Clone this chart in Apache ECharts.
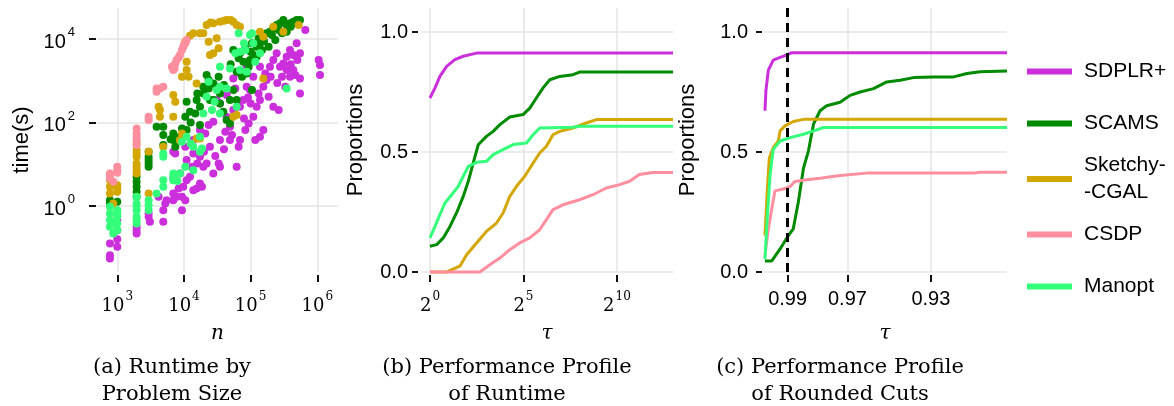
<!DOCTYPE html>
<html>
<head>
<meta charset="utf-8">
<script src="https://cdn.jsdelivr.net/npm/echarts@6/dist/echarts.min.js"></script>
<style>
  html, body { margin: 0; padding: 0; background: #fff; }
  #main { width: 1174px; height: 406px; }
</style>
</head>
<body>
<div id="main"></div>
<script>
// methods, in legend order
const methods = ['SDPLR+', 'SCAMS', 'Sketchy-CGAL', 'CSDP', 'Manopt'];
const colors = ['#CB2FDC', '#008A00', '#D4A600', '#FF8E9E', '#33FF7A'];

// (a) runtime vs problem size, as [log10 n, log10 time]
const sdplrPts = [[2.89,-1.18],[2.89,-1.26],[3.00,-0.98],[3.00,-0.58],[3.00,-0.34],[3.29,-0.66],[3.29,-0.50],
  [3.47,-0.26],[3.49,-0.38],[3.69,-0.38],[3.72,0.06],[3.62,0.22],[3.74,0.14],[3.84,1.30],[3.84,0.14],[3.97,0.22],
  [3.99,0.46],[4.04,0.62],[3.89,0.22],[3.97,-0.10],[4.02,0.14],[4.14,0.38],[4.19,0.42],[4.27,0.46],[4.34,1.02],
  [4.39,1.42],[4.37,1.94],[4.52,1.02],[4.54,0.94],[4.54,1.58],[4.62,1.78],[4.69,1.90],[4.64,2.14],[4.69,1.58],
  [4.74,2.30],[4.79,0.94],[4.82,1.42],[4.84,1.58],[4.92,1.82],[4.97,1.98],[5.04,2.14],[5.09,2.38],[4.84,2.38],
  [4.89,2.54],[4.94,2.86],[4.99,2.78],[5.04,3.10],[5.14,2.54],[5.19,2.86],[5.24,3.02],[5.29,3.34],[5.34,3.50],
  [5.39,3.66],[5.44,3.34],[5.49,3.42],[5.54,3.58],[5.59,3.74],[5.64,3.62],[5.69,3.90],[5.74,3.66],[5.54,3.26],
  [5.59,3.10],[5.67,3.14],[5.74,3.06],[5.74,2.70],[5.19,1.82],[5.14,1.66],[5.07,1.58],[5.34,2.38],[5.42,2.30],
  [5.52,2.86],[5.64,3.26],[5.82,4.22],[6.02,3.50],[6.04,3.38],[6.04,3.14],[5.14,3.34],[5.22,3.18],[4.94,3.34],
  [4.84,3.18],[4.74,3.06],[4.77,2.82],[4.64,2.66],[4.54,2.46],[4.49,2.54],[4.44,2.02],[4.24,1.82],[4.32,1.74],
  [4.14,1.58],[4.02,1.42],[4.14,1.26],[4.24,1.18],[4.29,0.94],[4.44,0.78],[3.94,0.78],[4.24,0.54],[4.12,0.94],
  [3.87,1.26],[4.04,1.10],[3.84,0.66],[2.89,-0.90],[3.00,-0.80],[3.29,-0.58],[3.47,-0.18],[3.69,-0.10],[3.84,0.30],
  [3.92,0.42],[4.09,0.70],[4.20,1.02],[4.30,1.30],[4.47,1.20],[4.60,1.36],[4.72,1.70],[4.90,2.10],[5.00,2.46],
  [5.12,2.70],[5.27,2.62],[5.40,2.95],[5.47,3.10],[5.60,3.40],[5.70,3.50],[5.30,3.10],[4.96,2.60]];
const scamsPts = [[2.89,0.14],[2.89,0.06],[3.00,0.10],[3.29,0.70],[3.29,0.58],[3.29,0.46],[3.29,0.34],[3.47,1.30],
  [3.47,1.18],[3.47,1.02],[3.47,0.94],[3.59,1.90],[3.69,1.90],[3.69,1.46],[3.84,1.74],[3.84,1.58],[3.94,1.66],
  [3.97,1.86],[4.02,2.14],[4.04,2.50],[4.09,2.26],[4.17,2.22],[4.19,2.54],[4.24,2.38],[4.24,1.94],[4.29,2.86],
  [4.29,2.70],[4.34,3.14],[4.37,2.82],[4.39,2.54],[4.44,2.54],[4.49,2.86],[4.52,3.10],[4.54,2.46],[4.59,2.26],
  [4.64,2.06],[4.69,1.98],[4.74,2.78],[4.79,3.22],[4.82,3.54],[4.87,3.10],[4.94,3.18],[4.97,3.34],[4.99,3.50],
  [5.02,2.78],[5.04,3.62],[5.09,3.82],[5.14,3.90],[5.19,4.06],[5.24,4.14],[5.29,4.18],[5.34,4.26],[5.39,4.34],
  [5.44,4.38],[5.49,4.46],[5.54,4.34],[5.59,4.38],[5.64,4.42],[5.69,4.46],[5.74,4.46],[5.09,3.58],[5.17,3.74],
  [5.27,3.82],[5.37,3.98],[5.47,4.14],[5.54,4.18],[4.74,3.74],[4.84,3.66],[4.92,3.78],[5.02,3.90],[5.12,4.02],
  [4.89,3.46],[4.79,2.54],[4.69,2.54],[4.54,2.70],[4.37,3.02],[4.44,2.94],[4.04,1.82],[3.87,1.42],[3.29,0.22],
  [3.47,1.10],[3.69,1.70],[3.80,1.60],[4.10,2.00],[4.20,2.70],[4.60,2.90],[4.70,3.40],[5.00,3.70],[5.20,3.95],
  [5.32,4.10],[5.42,4.22],[5.60,4.30],[5.66,4.38]];
const sketchyPts = [[2.89,0.62],[2.89,0.46],[2.89,0.30],[3.00,0.50],[3.00,0.34],[2.94,0.06],[3.29,1.50],[3.29,1.34],
  [3.29,1.18],[3.29,1.02],[3.29,0.86],[3.29,0.78],[3.47,1.30],[3.47,0.30],[3.62,2.38],[3.64,2.14],[3.69,1.42],
  [3.84,2.66],[3.84,2.14],[3.94,1.58],[4.04,3.26],[4.07,3.10],[4.04,3.46],[4.02,3.94],[4.14,4.14],[4.24,4.14],
  [4.29,4.14],[4.34,4.34],[4.44,4.38],[4.54,4.42],[4.64,4.46],[4.74,4.42],[4.79,4.34],[4.84,4.30],[4.37,3.94],
  [4.49,4.02],[4.52,3.78],[4.39,3.62],[4.44,3.66],[4.19,2.94],[4.19,1.62],[4.24,1.62],[4.74,2.14],[4.79,2.18],
  [5.19,3.06],[5.14,4.18],[5.19,4.06],[5.34,4.30],[5.72,4.34],[5.49,4.18],[3.97,1.74],[3.29,1.26],[3.29,0.94],
  [3.00,0.42],[3.64,2.30],[3.87,2.50],[3.97,3.10],[4.09,4.08],[4.40,4.40],[4.60,4.44],[4.70,4.46]];
const csdpPts = [[2.89,0.78],[2.89,0.66],[2.94,0.58],[3.00,0.94],[3.00,0.86],[3.29,1.86],[3.29,1.74],[3.29,1.58],
  [3.29,1.46],[3.47,2.14],[3.47,2.06],[3.59,2.82],[3.59,2.74],[3.64,2.82],[3.69,2.86],[3.82,3.34],[3.84,3.26],
  [3.87,3.42],[3.89,3.50],[3.94,3.62],[3.97,3.74],[3.99,3.82],[4.02,3.90],[4.04,3.98],[2.89,0.72],[3.00,0.80],
  [3.29,1.66],[3.86,3.30],[3.92,3.56],[4.00,3.86]];
const manoptPts = [[2.89,-0.18],[2.89,-0.34],[2.89,-0.50],[2.94,-0.66],[3.00,-0.10],[3.00,-0.26],[3.00,-0.42],
  [3.00,-0.58],[3.29,0.22],[3.29,0.06],[3.29,-0.10],[3.29,-0.26],[3.29,-0.42],[3.47,0.14],[3.47,-0.10],[3.59,0.30],
  [3.69,0.62],[3.69,0.46],[3.69,1.26],[3.69,1.18],[3.84,0.78],[3.84,0.62],[3.94,0.78],[4.02,0.94],[3.97,1.54],
  [4.04,1.66],[4.14,1.42],[4.24,1.66],[4.24,1.30],[4.27,1.38],[4.14,0.86],[4.29,2.22],[4.34,2.62],[4.37,2.98],
  [4.42,2.30],[4.54,3.34],[4.54,2.22],[4.64,2.82],[4.69,3.30],[4.79,2.38],[4.82,4.14],[4.84,3.70],[4.77,3.66],
  [4.92,3.74],[4.99,4.10],[5.02,4.14],[5.04,3.90],[5.07,3.46],[5.14,3.66],[5.54,2.82],[4.84,3.26],[4.94,3.22],
  [4.54,2.86],[4.49,2.78],[2.89,-0.02],[3.00,-0.18],[2.94,-0.40],[3.29,-0.02],[3.29,-0.34],[3.47,0.02],
  [3.84,0.70],[3.90,0.60],[4.10,1.50],[4.46,2.50],[4.90,3.90]];

// (b) performance profile of runtime, as [log2 tau, proportion]
const sdplrRun = [[0,0.725],[0.27,0.767],[0.53,0.815],[0.89,0.857],[1.33,0.885],[1.78,0.899],[2.49,0.912],[13,0.912]];
const scamsRun = [[0,0.107],[0.36,0.114],[0.71,0.142],[1.07,0.19],[1.42,0.246],[1.78,0.315],[2.05,0.378],[2.31,0.454],
  [2.58,0.53],[3.02,0.565],[3.38,0.586],[3.74,0.614],[4.27,0.646],[4.98,0.656],[5.34,0.683],[5.69,0.725],[6.05,0.767],
  [6.41,0.801],[6.94,0.815],[7.65,0.822],[8.0,0.833],[13,0.833]];
const sketchyRun = [[0,0],[0.89,0],[1.6,0.024],[1.96,0.072],[2.49,0.121],[3.02,0.169],[3.56,0.204],[3.91,0.246],
  [4.27,0.315],[4.63,0.357],[5.07,0.399],[5.52,0.454],[5.87,0.496],[6.23,0.524],[6.58,0.572],[6.94,0.586],[7.65,0.6],
  [8.36,0.621],[8.9,0.635],[13,0.635]];
const csdpRun = [[0,0],[2.67,0],[3.2,0.03],[3.74,0.058],[4.27,0.093],[4.8,0.121],[5.34,0.142],[5.87,0.176],[6.23,0.218],
  [6.58,0.26],[7.12,0.28],[8.0,0.301],[8.72,0.322],[9.43,0.35],[10.14,0.364],[10.68,0.378],[11.2,0.406],[11.92,0.415],[13,0.415]];
const manoptRun = [[0,0.142],[0.27,0.19],[0.53,0.239],[0.8,0.2875],[1.16,0.322],[1.51,0.357],[1.78,0.399],[2.05,0.44],
  [2.49,0.457],[3.02,0.461],[3.38,0.489],[3.91,0.51],[4.45,0.531],[5.16,0.5375],[5.52,0.572],[5.87,0.6],[7.65,0.603],
  [8.0,0.607],[13,0.607]];

// (c) performance profile of rounded cuts, x = position along the tau axis (0..100)
const sdplrCut = [[0.8,0.672],[1.2,0.757],[2.2,0.841],[4.2,0.883],[7.0,0.894],[9.7,0.904],[11.8,0.914],[100,0.914]];
const scamsCut = [[0.8,0.046],[3.6,0.046],[7,0.096],[10.4,0.152],[12.4,0.18],[14.5,0.293],[16.6,0.433],[18.6,0.504],
  [20.7,0.616],[23.4,0.672],[26.1,0.693],[31.6,0.707],[35.7,0.736],[39.8,0.75],[45.3,0.764],[50.7,0.792],[56.2,0.799],
  [61.7,0.81],[69.9,0.813],[78.1,0.813],[83.6,0.827],[89,0.834],[100,0.837]];
const sketchyCut = [[0.8,0.152],[1.8,0.349],[2.6,0.475],[4.2,0.518],[6.3,0.546],[7,0.588],[9,0.609],[12.4,0.627],
  [16.6,0.636],[100,0.636]];
const csdpCut = [[0.8,0.068],[2.2,0.18],[3.6,0.264],[4.9,0.338],[8.3,0.346],[11.1,0.356],[13.1,0.377],[17.9,0.384],
  [23.4,0.391],[31.6,0.402],[42.5,0.412],[86.3,0.412],[89,0.416],[100,0.416]];
const manoptCut = [[0.8,0.053],[1.8,0.236],[2.9,0.405],[4.2,0.511],[7,0.546],[11.1,0.56],[16.6,0.574],[20.7,0.588],
  [24.8,0.602],[100,0.602]];

// tick labels
const sizeTicks = [3, 4, 5, 6];
const timeTicks = [0, 2, 4];
const runTicks = [0, 5, 10];
const propTicks = [0, 0.5, 1.0];
const cutTicks = [10.1, 34.6, 68.8];
const cutTickLabels = ['0.99', '0.97', '0.93'];
const cutRef = 10.1; // dashed marker at 0.99

const sizePts = [sdplrPts, scamsPts, sketchyPts, csdpPts, manoptPts];
const runCurves = [sdplrRun, scamsRun, sketchyRun, csdpRun, manoptRun];
const cutCurves = [sdplrCut, scamsCut, sketchyCut, csdpCut, manoptCut];

const sans = "'Liberation Sans', Arial, sans-serif";
const serif = "'DejaVu Serif', serif";
const gridLine = { show: true, lineStyle: { color: '#E4E4E4', width: 1.5 } };
const noLine = { show: false, onZero: false };
const tick = (vals, len) => ({ show: true, inside: false, length: len, customValues: vals,
  lineStyle: { color: '#111', width: 2 } });

const sup = (base) => ({
  formatter: v => '{b|' + base + '}{s|' + v + '}',
  rich: {
    b: { fontFamily: serif, fontSize: 18, lineHeight: 24, verticalAlign: 'bottom', color: '#000' },
    s: { fontFamily: serif, fontSize: 12, lineHeight: 24, verticalAlign: 'top', color: '#000', padding: [0, 0, 0, 1] }
  }
});
const supSans = (base) => ({
  formatter: v => '{b|' + base + '}{s|' + v + '}',
  rich: {
    b: { fontFamily: sans, fontSize: 20, lineHeight: 26, verticalAlign: 'bottom', color: '#000' },
    s: { fontFamily: sans, fontSize: 13, lineHeight: 26, verticalAlign: 'top', color: '#000', padding: [0, 0, 0, 2] }
  }
});
const nameStyle = { fontFamily: serif, fontStyle: 'italic', fontSize: 20, color: '#000' };

let myChart = echarts.init(document.getElementById('main'));

let series = [];
methods.forEach((name, i) => {
  series.push({
    name: name, type: 'scatter', xAxisIndex: 0, yAxisIndex: 0,
    symbolSize: 8, itemStyle: { color: colors[i], opacity: 1 },
    data: sizePts[i]
  });
});
methods.forEach((name, i) => {
  series.push({
    name: name, type: 'line', xAxisIndex: 1, yAxisIndex: 1,
    showSymbol: false, clip: false, itemStyle: { color: colors[i] },
    lineStyle: { color: colors[i], width: 3 },
    data: runCurves[i]
  });
});
methods.forEach((name, i) => {
  let s = {
    name: name, type: 'line', xAxisIndex: 2, yAxisIndex: 2,
    showSymbol: false, clip: false, itemStyle: { color: colors[i] },
    lineStyle: { color: colors[i], width: 3 },
    data: cutCurves[i]
  };
  if (i === methods.length - 1) {
    s.markLine = {
      silent: true, symbol: ['none', 'none'], label: { show: false },
      lineStyle: { color: '#000', type: [9, 6], width: 3 },
      data: [{ xAxis: cutRef }]
    };
  }
  series.push(s);
});

const legendTops = [58, 110, 152, 221, 273];
const legends = methods.map((name, i) => ({
  data: [name], left: 1027, top: legendTops[i], orient: 'vertical', padding: 0,
  icon: 'rect', itemWidth: 45, itemHeight: 6,
  formatter: n => n === 'Sketchy-CGAL' ? 'Sketchy-\n-CGAL' : n,
  textStyle: { fontFamily: sans, fontSize: 21, lineHeight: 27, color: '#000', padding: [0, 0, 0, 7] }
}));

const captions = [
  { x: 172, text: '(a) Runtime by\nProblem Size' },
  { x: 507, text: '(b) Performance Profile\nof Runtime' },
  { x: 840, text: '(c) Performance Profile\nof Rounded Cuts' }
];

let option = {
  animation: false,
  backgroundColor: '#fff',
  grid: [
    { left: 97, top: 8, width: 241, height: 264 },
    { left: 421, top: 8, width: 252, height: 264 },
    { left: 763, top: 8, width: 244, height: 264 }
  ],
  legend: legends,
  xAxis: [{
    gridIndex: 0, type: 'value', min: 2.696, max: 6.31, offset: 3,
    axisLine: noLine, axisTick: tick(sizeTicks, 7),
    axisLabel: Object.assign({ customValues: sizeTicks, margin: 16 }, sup('10')),
    splitLine: gridLine,
    name: 'n', nameLocation: 'middle', nameGap: 49, nameTextStyle: nameStyle
  }, {
    gridIndex: 1, type: 'value', min: -0.48, max: 13, offset: 3,
    axisLine: noLine, axisTick: tick(runTicks, 7),
    axisLabel: Object.assign({ customValues: runTicks, margin: 16 }, sup('2')),
    splitLine: gridLine,
    name: 'τ', nameLocation: 'middle', nameGap: 49, nameTextStyle: nameStyle
  }, {
    gridIndex: 2, type: 'value', min: 0, max: 100, offset: 3,
    axisLine: noLine, axisTick: tick(cutTicks, 7),
    axisLabel: { customValues: cutTicks, margin: 14, fontFamily: sans, fontSize: 20, color: '#000',
      formatter: v => cutTickLabels[cutTicks.indexOf(v)] },
    splitLine: gridLine,
    name: 'τ', nameLocation: 'middle', nameGap: 49, nameTextStyle: nameStyle
  }],
  yAxis: [{
    gridIndex: 0, type: 'value', min: -1.583, max: 4.748, offset: 1,
    axisLine: noLine, axisTick: tick(timeTicks, 7),
    axisLabel: Object.assign({ customValues: timeTicks, margin: 21 }, supSans('10')),
    splitLine: gridLine,
    name: 'time(s)', nameLocation: 'middle', nameGap: 63,
    nameTextStyle: { fontFamily: sans, fontSize: 22, color: '#000' }
  }, {
    gridIndex: 1, type: 'value', min: 0, max: 1.1, offset: 3,
    axisLine: noLine, axisTick: tick(propTicks, 6),
    axisLabel: { customValues: propTicks, margin: 10, fontFamily: sans, fontSize: 20, color: '#000',
      formatter: v => v.toFixed(1) },
    splitLine: gridLine,
    name: 'Proportions', nameLocation: 'middle', nameGap: 51,
    nameTextStyle: { fontFamily: sans, fontSize: 22, color: '#000' }
  }, {
    gridIndex: 2, type: 'value', min: 0, max: 1.1, offset: 1,
    axisLine: noLine, axisTick: tick(propTicks, 6),
    axisLabel: { customValues: propTicks, margin: 14, fontFamily: sans, fontSize: 20, color: '#000',
      formatter: v => v.toFixed(1) },
    splitLine: gridLine,
    name: 'Proportions', nameLocation: 'middle', nameGap: 63,
    nameTextStyle: { fontFamily: sans, fontSize: 22, color: '#000' }
  }],
  graphic: captions.map(c => ({
    type: 'text', x: c.x, y: 354,
    style: { text: c.text, fontFamily: serif, fontSize: 21, lineHeight: 27, textAlign: 'center', fill: '#000' }
  })),
  series: series
};

myChart.setOption(option);
</script>
</body>
</html>
